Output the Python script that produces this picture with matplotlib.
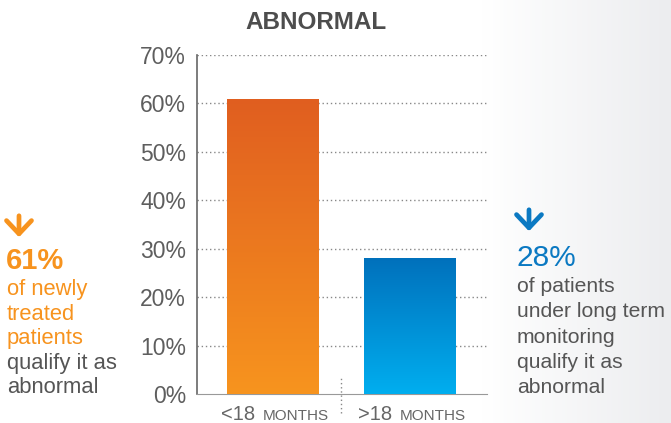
import numpy as np
import matplotlib.pyplot as plt
from matplotlib.colors import LinearSegmentedColormap

# chart data
categories = ['<18', '>18']
cat_suffix = 'MONTHS'
values = [61, 28]
y_ticks = [0, 10, 20, 30, 40, 50, 60, 70]
y_labels = ['0%', '10%', '20%', '30%', '40%', '50%', '60%', '70%']
title = 'ABNORMAL'

left_pct = '61%'
left_lines_col = ['of newly', 'treated', 'patients']
left_lines_gray = ['qualify it as', 'abnormal']
right_pct = '28%'
right_lines = ['of patients', 'under long term', 'monitoring', 'qualify it as', 'abnormal']

# gradient colours (top, bottom) for each bar
bar_grads = [('#E05E20', '#F7941E'), ('#0071BC', '#00AEEF')]
orange = '#F7931E'
blue = '#0B79C2'
gray_txt = '#555555'

plt.rcParams['font.family'] = ['Liberation Sans', 'DejaVu Sans']

W, H = 671, 423
fig = plt.figure(figsize=(W / 100, H / 100), dpi=100)

# light gray gradient on the right side of the page
bg = fig.add_axes([0, 0, 1, 1], zorder=-10)
grad = np.clip((np.linspace(0, 1, 400) - 0.72) / 0.28, 0, 1)
bg.imshow(grad[None, :], aspect='auto', extent=[0, 1, 0, 1],
          cmap=LinearSegmentedColormap.from_list('bg', ['#FFFFFF', '#ECEDEF']))
bg.set_xlim(0, 1)
bg.set_ylim(0, 1)
bg.axis('off')

def fx(px):
    return px / W

def fy(py):
    return 1 - py / H

ax = fig.add_axes([fx(197), fy(394), fx(487) - fx(197), fy(55) - fy(394)])
ax.set_facecolor('none')
x = np.arange(len(categories))
bars = ax.bar(x, values, width=0.665, color='none', zorder=3)
for b, (top, bot) in zip(bars, bar_grads):
    cmap = LinearSegmentedColormap.from_list('g', [bot, top])
    g = np.linspace(0, 1, 256)[:, None]
    im = ax.imshow(g, aspect='auto', cmap=cmap, origin='lower', zorder=3,
                   extent=[b.get_x(), b.get_x() + b.get_width(), 0, b.get_height()])
    im.set_clip_path(b)

ax.set_xlim(-0.551, 1.566)
ax.set_ylim(0, 70)
ax.set_yticks(y_ticks)
ax.set_yticklabels(y_labels, fontsize=16.5, color='#5E5E5E')
ax.tick_params(axis='y', length=0, pad=8)
ax.tick_params(axis='x', length=0)
ax.set_xticks([])
for v in y_ticks[1:]:
    ax.axhline(v, color='#888888', lw=1, ls=(0, (1, 2)), zorder=1)
for s in ['top', 'right']:
    ax.spines[s].set_visible(False)
ax.spines['left'].set_color('#666666')
ax.spines['bottom'].set_color('#999999')
ax.spines['left'].set_linewidth(1.2)

# dotted separator between the categories
ax.plot([0.5, 0.5], [-0.055, 0.05], transform=ax.get_xaxis_transform(), clip_on=False,
        color='#888888', lw=1, ls=(0, (1, 2)))

# category labels with small caps suffix
for xi, c in zip(x, categories):
    ax.annotate(c, (xi, 0), xycoords=('data', 'axes fraction'), xytext=(-17, -26),
                textcoords='offset pixels', ha='right', va='baseline', fontsize=14.5, color='#666666')
    ax.annotate(cat_suffix, (xi, 0), xycoords=('data', 'axes fraction'), xytext=(-10, -26),
                textcoords='offset pixels', ha='left', va='baseline', fontsize=11, color='#666666')

fig.text(fx(316), fy(29), title, ha='center', va='baseline', fontsize=17.5,
         fontweight='bold', color='#4D4D4D')

# down arrows
arrow_style = '->, head_length=0.95, head_width=0.9'
bg.annotate('', xy=(fx(19), fy(240)), xytext=(fx(19), fy(213)), xycoords='figure fraction',
            arrowprops=dict(arrowstyle=arrow_style, lw=3.4, color=orange))
bg.annotate('', xy=(fx(529), fy(234)), xytext=(fx(529), fy(207)), xycoords='figure fraction',
            arrowprops=dict(arrowstyle=arrow_style, lw=3.4, color=blue))

# left annotation
fig.text(fx(6), fy(269), left_pct, fontweight='bold', fontsize=21, color=orange, ha='left', va='baseline')
py = 295
for line in left_lines_col:
    fig.text(fx(7), fy(py), line, fontsize=15.8, color=orange, ha='left', va='baseline')
    py += 24.5
for line in left_lines_gray:
    fig.text(fx(7), fy(py), line, fontsize=15.8, color=gray_txt, ha='left', va='baseline')
    py += 24.5

# right annotation
fig.text(fx(516), fy(266), right_pct, fontsize=21.5, color=blue, ha='left', va='baseline')
py = 292
for line in right_lines:
    fig.text(fx(517), fy(py), line, fontsize=15.2, color=gray_txt, ha='left', va='baseline')
    py += 25.25

fig.savefig('out.png', dpi=100)
